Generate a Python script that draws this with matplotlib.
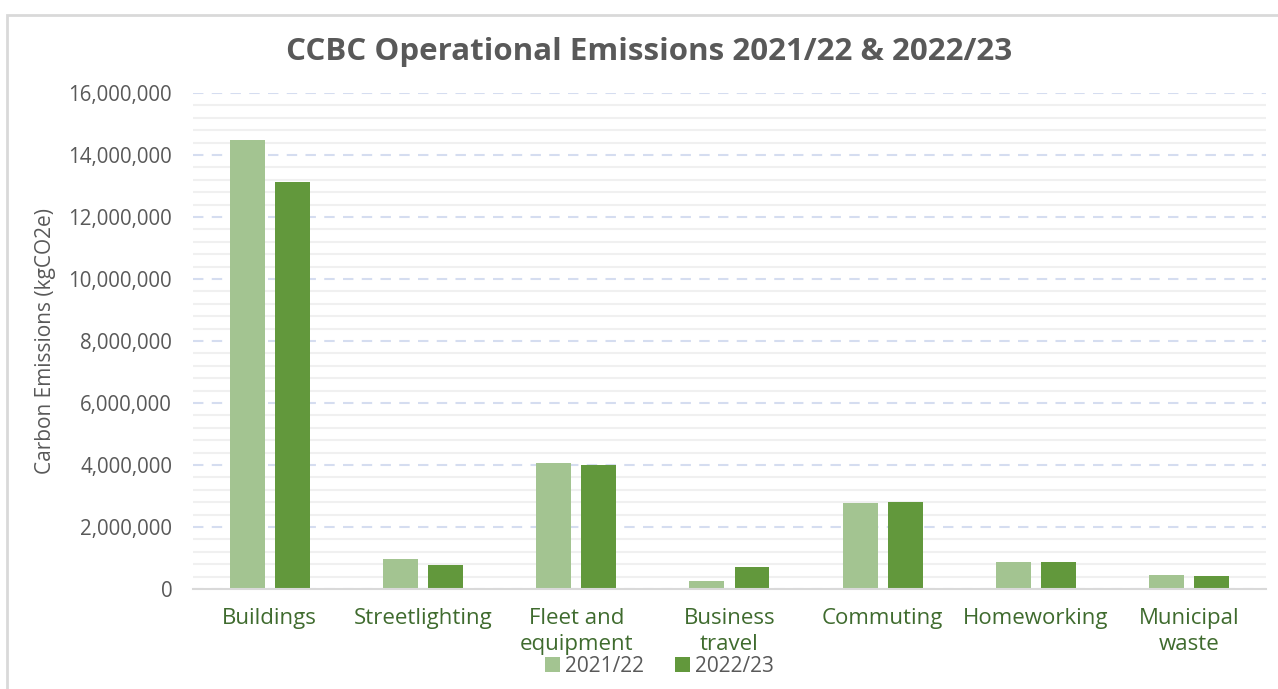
import numpy as np
import matplotlib.pyplot as plt
from matplotlib.patches import Rectangle
from matplotlib.ticker import MultipleLocator, FuncFormatter

plt.rcParams['font.family'] = ['Open Sans', 'DejaVu Sans']

# emissions per category, kgCO2e
categories = ['Buildings', 'Streetlighting', 'Fleet and\nequipment', 'Business\ntravel',
              'Commuting', 'Homeworking', 'Municipal\nwaste']
em_2122 = [14470000, 960000, 4080000, 270000, 2770000, 870000, 460000]
em_2223 = [13130000, 770000, 4010000, 710000, 2810000, 870000, 430000]
years = ['2021/22', '2022/23']

light_green = '#A3C491'
dark_green = '#62983C'

fig = plt.figure(figsize=(12.78, 6.89), dpi=100)
ax = fig.add_axes([0.151, 0.1451, 0.8396, 0.7199])

# chart border
fig.patches.append(Rectangle((7 / 1278, -0.01), 1.02, 1 - 15 / 689 + 0.01,
                             transform=fig.transFigure, fill=False,
                             edgecolor='#D9D9D9', linewidth=2))

x = np.arange(len(categories))
w = 0.228
off = 0.147
ax.bar(x - off, em_2122, w, color=light_green, label=years[0], zorder=3)
ax.bar(x + off, em_2223, w, color=dark_green, label=years[1], zorder=3)

ax.set_xlim(-0.5, len(categories) - 0.5)
ax.set_ylim(0, 16000000)
ax.yaxis.set_major_locator(MultipleLocator(2000000))
ax.yaxis.set_minor_locator(MultipleLocator(400000))
ax.yaxis.set_major_formatter(FuncFormatter(lambda v, p: f'{int(v):,}'))
ax.grid(axis='y', which='minor', color='#F0F0F0', linewidth=1.5, linestyle='-', zorder=0)
ax.grid(axis='y', which='major', color='#D5DDF0', linewidth=1.5, linestyle=(0, (5, 4)), zorder=1)

ax.set_xticks(x)
ax.set_xticklabels(categories, fontsize=16, color='#3F6B2E', linespacing=1.3)
ax.tick_params(axis='y', which='both', length=0, labelsize=14.8, labelcolor='#595959', pad=15)
ax.tick_params(axis='x', length=0, pad=14)

for s in ['top', 'right', 'left']:
    ax.spines[s].set_visible(False)
ax.spines['bottom'].set_color('#D9D9D9')
ax.spines['bottom'].set_linewidth(1.5)
ax.spines['bottom'].set_zorder(4)

ax.set_ylabel('Carbon Emissions (kgCO2e)', fontsize=15, color='#595959')
ax.yaxis.set_label_coords(-0.128, 0.5)

fig.text(0.508, 0.925, 'CCBC Operational Emissions 2021/22 & 2022/23', ha='center', va='center',
         fontsize=22.5, fontweight='bold', color='#595959')

fig.legend(loc='center', bbox_to_anchor=(0.516, 0.033), ncol=2, frameon=False,
           fontsize=15, handlelength=0.7, handleheight=0.7, handletextpad=0.25,
           columnspacing=1.5, labelcolor='#595959')

fig.savefig('out.png', dpi=100)
